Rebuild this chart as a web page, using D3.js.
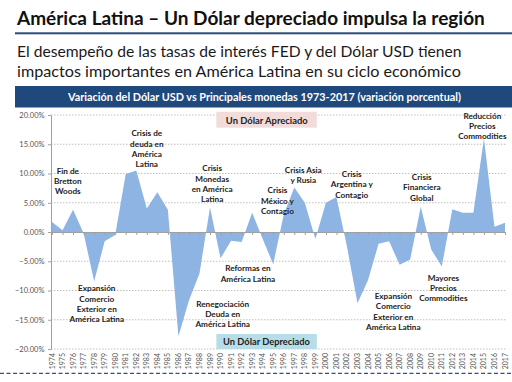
<!DOCTYPE html>
<html>
<head>
<meta charset="utf-8">
<script src="https://cdn.jsdelivr.net/npm/d3@7"></script>
<style>
  body { margin: 0; background: #fff; }
  svg { display: block; font-family: Lato, "Open Sans", sans-serif; }
</style>
</head>
<body>
<div id="chart"></div>
<script>
// categories (years) and yearly % change of USD vs main currencies
var years = d3.range(1974, 2018);
var values = [1.7, 0.3, 3.8, -0.2, -8.4, -1.6, -0.5, 9.9, 10.5, 4.0, 6.8, 3.8,
              -17.8, -11.7, -7.1, 4.2, -4.5, -1.5, -1.7, 3.3, -1.2, -5.5, 3.0, 7.6,
              5.0, -1.2, 5.0, 6.0, -2.5, -12.2, -8.2, -2.0, -1.6, -5.6, -4.7, 4.3,
              -3.0, -5.9, 3.9, 3.3, 3.3, 16.0, 0.9, 1.6];
var yTicks = [-20, -15, -10, -5, 0, 5, 10, 15, 20];

// annotation texts, anchored at (year, % of first line)
var notes = [
  {lines: ["Fin de", "Bretton", "Woods"], year: 1975.5, pct: 10.5},
  {lines: ["Crisis de", "deuda en", "América", "Latina"], year: 1983.0, pct: 16.9},
  {lines: ["Crisis", "Monedas", "en América", "Latina"], year: 1989.2, pct: 10.9},
  {lines: ["Crisis", "México y", "Contagio"], year: 1995.4, pct: 7.1},
  {lines: ["Crisis Asia", "y Rusia"], year: 1997.85, pct: 10.6},
  {lines: ["Crisis", "Argentina y", "Contagio"], year: 2002.45, pct: 9.9},
  {lines: ["Crisis", "Financiera", "Global"], year: 2009.1, pct: 9.45},
  {lines: ["Reducción", "Precios", "Commodities"], year: 2014.85, pct: 19.9},
  {lines: ["Expansión", "Comercio", "Exterior en", "América Latina"], year: 1978.25, pct: -9.6},
  {lines: ["Renegociación", "Deuda en", "América Latina"], year: 1990.2, pct: -12.25},
  {lines: ["Reformas en", "América Latina"], year: 1992.6, pct: -6.2},
  {lines: ["Expansión", "Comercio", "Exterior en", "América Latina"], year: 2006.4, pct: -10.9},
  {lines: ["Mayores", "Precios", "Commodities"], year: 2011.15, pct: -7.8}
];

var w = 512, h = 382;
var svg = d3.select("#chart").append("svg")
            .attr("width", w)
            .attr("height", h);

// scale font so text spans a given width
function fit(sel, target) {
  var len = sel.node().getComputedTextLength();
  var fs = parseFloat(sel.attr("font-size"));
  sel.attr("font-size", fs * target / len);
}

// Title
svg.append("text")
   .attr("x", 17).attr("y", 25)
   .attr("font-size", 18).attr("font-weight", "bold")
   .attr("fill", "#111")
   .text("América Latina – Un Dólar depreciado impulsa la región")
   .call(fit, 468);

svg.append("rect")
   .attr("x", 15).attr("y", 32.3)
   .attr("width", w - 15).attr("height", 2)
   .attr("fill", "#2c4c7e");

svg.append("text")
   .attr("x", 17).attr("y", 56.7)
   .attr("font-size", 17).attr("fill", "#1a1a1a")
   .text("El desempeño de las tasas de interés FED y del Dólar USD tienen")
   .call(fit, 445);

svg.append("text")
   .attr("x", 17).attr("y", 77.3)
   .attr("font-size", 17).attr("fill", "#1a1a1a")
   .text("impactos importantes en América Latina en su ciclo económico")
   .call(fit, 444);

// header bar
svg.append("rect")
   .attr("x", 15).attr("y", 86)
   .attr("width", w - 15).attr("height", 21.5)
   .attr("fill", "#1f497d");

svg.append("text")
   .attr("x", 264.5).attr("y", 100.5)
   .attr("text-anchor", "middle")
   .attr("font-size", 11).attr("font-weight", "bold")
   .attr("fill", "#fff")
   .text("Variación del Dólar USD vs Principales monedas 1973-2017 (variación porcentual)")
   .call(fit, 393);

// Scales
var xScale = d3.scaleLinear()
               .domain([1974, 2017])
               .range([52, 505]);

var yScale = d3.scaleLinear()
               .domain([-20, 20])
               .range([349, 115]);

// gridlines
svg.selectAll("line.grid")
   .data(yTicks.filter(function(d) { return d !== 0; }))
   .enter()
   .append("line")
   .attr("class", "grid")
   .attr("x1", 51).attr("x2", 507)
   .attr("y1", function(d) { return yScale(d); })
   .attr("y2", function(d) { return yScale(d); })
   .attr("stroke", "#b0b0b0")
   .attr("stroke-width", 0.8)
   .attr("stroke-dasharray", "1.5,1.5");

// boxes
svg.append("rect")
   .attr("x", xScale(1989.6)).attr("y", yScale(20) - 3.3)
   .attr("width", 100.5).attr("height", 16)
   .attr("fill", "#f2dcdb");
svg.append("text")
   .attr("x", 266.8).attr("y", yScale(20) + 8.5)
   .attr("text-anchor", "middle")
   .attr("font-size", 10).attr("font-weight", "bold")
   .attr("fill", "#222")
   .text("Un Dólar Apreciado")
   .call(fit, 82);

svg.append("rect")
   .attr("x", xScale(1989.6)).attr("y", yScale(-20) - 15)
   .attr("width", 100.5).attr("height", 15)
   .attr("fill", "#b7dee8");
svg.append("text")
   .attr("x", 266.5).attr("y", yScale(-20) - 4)
   .attr("text-anchor", "middle")
   .attr("font-size", 10).attr("font-weight", "bold")
   .attr("fill", "#222")
   .text("Un Dólar Depreciado")
   .call(fit, 87);

// area
var area = d3.area()
             .x(function(d, i) { return xScale(years[i]); })
             .y0(yScale(0))
             .y1(function(d) { return yScale(d); });

svg.append("path")
   .datum(values)
   .attr("d", area)
   .attr("fill", "#8db4e2");

// y axis
var y_axis = d3.axisLeft(yScale)
               .tickValues(yTicks)
               .tickSizeInner(3)
               .tickSizeOuter(0)
               .tickPadding(3.5)
               .tickFormat(function(d) { return d3.format(".2f")(d) + "%"; });

var gy = svg.append("g")
            .attr("transform", "translate(51,0)")
            .call(y_axis);
gy.selectAll("path, line").attr("stroke", "#a0a0a0");
gy.selectAll("text")
  .attr("font-size", 7.5)
  .attr("font-family", "Lato, sans-serif")
  .attr("fill", "#555");

// category axis on zero line
var x_axis = d3.axisBottom(xScale)
               .tickValues(years)
               .tickSizeInner(3)
               .tickSizeOuter(0)
               .tickFormat("");

var gx = svg.append("g")
            .attr("transform", "translate(0," + yScale(0) + ")")
            .call(x_axis);
gx.selectAll("path, line").attr("stroke", "#a0a0a0");

// year labels at the bottom
svg.selectAll("text.year")
   .data(years)
   .enter()
   .append("text")
   .attr("class", "year")
   .attr("transform", function(d) {
       return "translate(" + (xScale(d) + 2.5) + ",353) rotate(-90)";
   })
   .attr("text-anchor", "end")
   .attr("font-size", 7)
   .attr("fill", "#555")
   .text(function(d) { return d; });

// annotations
var g = svg.selectAll("g.note")
           .data(notes)
           .enter()
           .append("g")
           .attr("class", "note")
           .attr("transform", function(d) {
               return "translate(" + xScale(d.year) + "," + (yScale(d.pct) + 3) + ")";
           });

g.append("text")
 .attr("text-anchor", "middle")
 .attr("font-size", 8.2)
 .attr("font-weight", "bold")
 .attr("fill", "#222")
 .selectAll("tspan")
 .data(function(d) { return d.lines; })
 .enter()
 .append("tspan")
 .attr("x", 0)
 .attr("y", function(d, i) { return i * 10.4; })
 .text(function(d) { return d; });

// dashed separator
svg.append("line")
   .attr("x1", 0).attr("x2", w)
   .attr("y1", 373.3).attr("y2", 373.3)
   .attr("stroke", "#2e5090")
   .attr("stroke-width", 1.3)
   .attr("stroke-dasharray", "4,2.5");
</script>
</body>
</html>
